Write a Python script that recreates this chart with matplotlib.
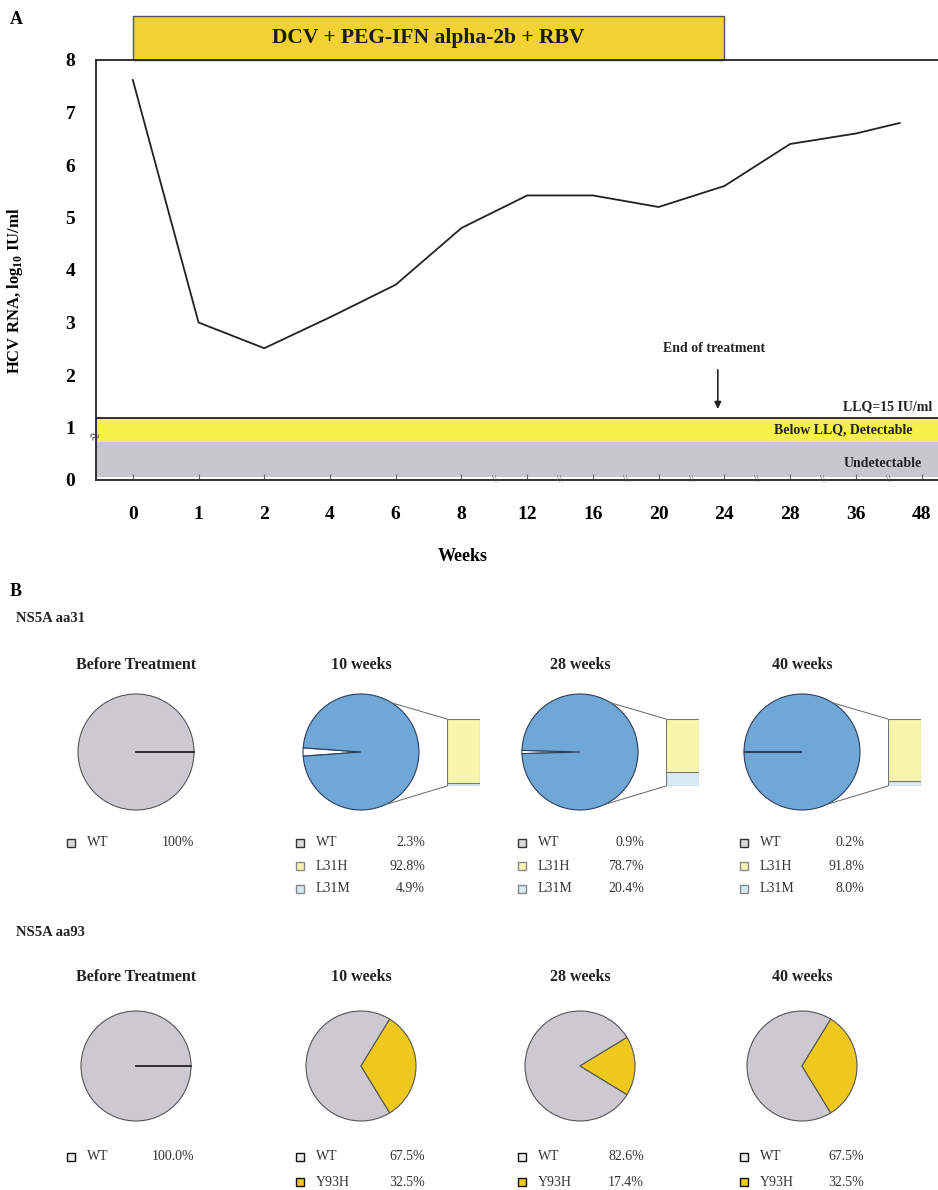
import numpy as np
import matplotlib
matplotlib.use("Agg")
import matplotlib.pyplot as plt
from matplotlib.patches import Rectangle, ConnectionPatch

plt.rcParams['font.family'] = ['Liberation Serif', 'DejaVu Serif']
plt.rcParams['mathtext.fontset'] = 'custom'
plt.rcParams['mathtext.rm'] = 'Liberation Serif'
plt.rcParams['mathtext.bf'] = 'Liberation Serif:bold'

W, H = 938, 1190

# ---- panel A data ----
week_ticks = [0, 1, 2, 4, 6, 8, 12, 16, 20, 24, 28, 36, 48]
rna_weeks = [0, 1, 2, 4, 6, 8, 12, 16, 20, 24, 28, 36, 44]
rna_log = [7.62, 3.0, 2.51, 3.1, 3.72, 4.8, 5.42, 5.42, 5.2, 5.6, 6.4, 6.6, 6.8]
treatment_weeks = (0, 24)
llq_level = 1.18
undetectable_level = 0.72

# ---- panel B data ----
time_titles = ["Before Treatment", "10 weeks", "28 weeks", "40 weeks"]
aa31_labels = ["WT", "L31H", "L31M"]
aa31_pct = [[100], [2.3, 92.8, 4.9], [0.9, 78.7, 20.4], [0.2, 91.8, 8.0]]
aa31_decimals = [0, 1, 1, 1]
aa93_labels = ["WT", "Y93H"]
aa93_pct = [[100.0], [67.5, 32.5], [82.6, 17.4], [67.5, 32.5]]
aa93_decimals = [1, 1, 1, 1]

fig = plt.figure(figsize=(W / 100, H / 100), dpi=100)


def px_axes(x0, y0, w, h):
    return fig.add_axes([x0 / W, 1 - (y0 + h) / H, w / W, h / H])


# overlay in pixel coords for free text / legends
ov = fig.add_axes([0, 0, 1, 1])
ov.set_xlim(0, W)
ov.set_ylim(H, 0)
ov.axis('off')

# ================= panel A =================
ax = px_axes(96, 60, 842, 420)
idx = np.arange(len(week_ticks))
pos = np.interp(rna_weeks, week_ticks, idx)

ax.axhspan(0.05, undetectable_level, color='#C8C8CC', lw=0)
ax.axhspan(undetectable_level, llq_level, color='#F6F04A', lw=0)
ax.axhline(llq_level, color='#222222', lw=1.3)
ax.plot(pos, rna_log, color='#222222', lw=1.3)

ax.set_xlim(-0.56, 12.25)
ax.set_ylim(0, 8)
ax.set_xticks(idx)
ax.set_xticklabels([str(w) for w in week_ticks], fontsize=14, fontweight='bold')
ax.set_yticks(range(9))
ax.set_yticklabels([str(v) for v in range(9)], fontsize=14, fontweight='bold')
ax.tick_params(axis='x', direction='in', length=4, width=0.8, color='#666666', pad=19)
ax.tick_params(axis='y', length=0, pad=15)
ax.spines['right'].set_visible(False)
for s in ['left', 'top', 'bottom']:
    ax.spines[s].set_linewidth(1.3)
    ax.spines[s].set_color('#222222')

ax.set_ylabel("HCV RNA, log$_{\\mathbf{10}}$ IU/ml", fontsize=12, fontweight='bold')
ax.yaxis.set_label_coords(-0.084, 0.45)
ax.set_xlabel("Weeks", fontsize=13, fontweight='bold')
ax.xaxis.set_label_coords(0.435, -0.162)

# treatment bar above the plot
t0 = np.interp(treatment_weeks[0], week_ticks, idx)
t1 = np.interp(treatment_weeks[1], week_ticks, idx)
ax.add_patch(Rectangle((t0, 8), t1 - t0, 0.84, facecolor='#F1D232',
                       edgecolor='#555555', lw=1, clip_on=False))
ax.text((t0 + t1) / 2, 8.42, "DCV + PEG-IFN alpha-2b + RBV", ha='center', va='center',
        fontsize=15.5, fontweight='bold', color='#1a1a1a', clip_on=False)

# end of treatment marker
ax.annotate("", xy=(t1 - 0.1, 1.3), xytext=(t1 - 0.1, 2.15),
            arrowprops=dict(arrowstyle='-|>', color='#222222', lw=1.2, mutation_scale=10))
ax.text(t1 - 0.15, 2.5, "End of treatment", ha='center', va='center',
        fontsize=10, fontweight='bold', color='#222222')

yt = ax.get_yaxis_transform()
ax.text(0.993, 1.39, "LLQ=15 IU/ml", transform=yt, ha='right', va='center',
        fontsize=10, fontweight='bold', color='#222222')
ax.text(0.970, 0.96, "Below LLQ, Detectable", transform=yt, ha='right', va='center',
        fontsize=10, fontweight='bold', color='#222222')
ax.text(0.981, 0.32, "Undetectable", transform=yt, ha='right', va='center',
        fontsize=10, fontweight='bold', color='#222222')

# axis break marks
ax.text(0, 0.82, "≈", transform=yt, ha='center', va='center', fontsize=12,
        rotation=30, color='#333333', clip_on=False)
for i in range(5, 12):
    ax.text(i + 0.5, 0.0, "\\\\", ha='center', va='center', fontsize=7,
            color='#555555', clip_on=False)

# ================= panel B =================
ov.text(10, 19, "A", fontsize=13, fontweight='bold', va='center')
ov.text(10, 592, "B", fontsize=13, fontweight='bold', va='center')
ov.text(16, 618, "NS5A aa31", fontsize=10.5, fontweight='bold', va='center', color='#222222')
ov.text(16, 933, "NS5A aa93", fontsize=10.5, fontweight='bold', va='center', color='#222222')

pie_cx = [136, 361, 580, 802]
marker_x = [71, 300, 522, 744]
value_x = [194, 425, 644, 864]

WT_GRAY = '#CDC9D1'
BLUE = '#6FA7D7'
PALE_YELLOW = '#F8F6AE'
PALE_BLUE = '#D8EAF3'
Y93H_YELLOW = '#EFC81E'
EDGE = '#555555'


def pie_axes(cx, cy, r):
    a = px_axes(cx - r * 1.04, cy - r * 1.04, 2.08 * r, 2.08 * r)
    return a


def finish_pie(a):
    a.set_xlim(-1.04, 1.04)
    a.set_ylim(-1.04, 1.04)
    a.set_aspect('equal')
    a.axis('off')


def legend(col, y0, dy, labels, values, decimals, faces, edges):
    for k, (lab, v) in enumerate(zip(labels, values)):
        y = y0 + k * dy
        ov.plot(marker_x[col], y, marker='s', markersize=6, markerfacecolor=faces[k],
                markeredgecolor=edges[k], markeredgewidth=1.0)
        ov.text(marker_x[col] + 16, y, lab, fontsize=10, va='center', color='#333333')
        ov.text(value_x[col], y, f"{v:.{decimals}f}%", fontsize=10, va='center',
                ha='right', color='#333333')


# --- aa31 row ---
cy1, r1 = 752, 58
for col, title in enumerate(time_titles):
    ov.text(pie_cx[col], 665, title, fontsize=11.5, fontweight='bold', ha='center',
            va='center', color='#222222')
for col, vals in enumerate(aa31_pct):
    pa = pie_axes(pie_cx[col], cy1, r1)
    if len(vals) == 1:
        pa.pie(vals, colors=[WT_GRAY], startangle=0,
               wedgeprops=dict(edgecolor=EDGE, linewidth=0.8))
        pa.plot([0, 1], [0, 0], color='#222222', lw=1.3)
        finish_pie(pa)
        legend(col, 843, 23, aa31_labels[:1], vals, aa31_decimals[col],
               ['#DADADA'], ['#333333'])
        continue
    wt, l31h, l31m = vals
    other = l31h + l31m
    pa.pie([wt, other], colors=['white', BLUE], startangle=180 - wt * 1.8,
           wedgeprops=dict(edgecolor='#2B3E5A', linewidth=0.8))
    finish_pie(pa)
    # stacked bar of the non-WT part
    bx = pie_cx[col] + 86
    ba = px_axes(bx, cy1 - 33, 33, 67)
    ba.bar(0, l31m / other, width=1, color=PALE_BLUE, edgecolor='#777777', lw=0.8)
    ba.bar(0, l31h / other, bottom=l31m / other, width=1, color=PALE_YELLOW,
           edgecolor='#777777', lw=0.8)
    ba.set_xlim(-0.5, 0.5)
    ba.set_ylim(0, 1)
    ba.axis('off')
    for ang, yb in [(58, 1), (-65, 0)]:
        cp = ConnectionPatch(xyA=(np.cos(np.radians(ang)), np.sin(np.radians(ang))),
                             coordsA=pa.transData, xyB=(-0.5, yb), coordsB=ba.transData,
                             color='#666666', lw=0.7)
        fig.add_artist(cp)
    legend(col, 843, 23, aa31_labels, vals, aa31_decimals[col],
           ['#DADADA', PALE_YELLOW, PALE_BLUE], ['#333333', '#888888', '#888888'])

# --- aa93 row ---
cy2, r2 = 1066, 55
for col, title in enumerate(time_titles):
    ov.text(pie_cx[col], 977, title, fontsize=11.5, fontweight='bold', ha='center',
            va='center', color='#222222')
for col, vals in enumerate(aa93_pct):
    pa = pie_axes(pie_cx[col], cy2, r2)
    if len(vals) == 1:
        pa.pie(vals, colors=[WT_GRAY], startangle=0,
               wedgeprops=dict(edgecolor=EDGE, linewidth=0.8))
        pa.plot([0, 1], [0, 0], color='#222222', lw=1.3)
        faces, edges = ['#EEEEEE'], ['#111111']
    else:
        pa.pie(vals, colors=[WT_GRAY, Y93H_YELLOW], startangle=vals[1] * 1.8,
               wedgeprops=dict(edgecolor=EDGE, linewidth=0.8))
        faces, edges = ['#EEEEEE', Y93H_YELLOW], ['#111111', '#111111']
    finish_pie(pa)
    legend(col, 1157, 25, aa93_labels[:len(vals)], vals, aa93_decimals[col], faces, edges)

fig.savefig("out.png", dpi=100)
